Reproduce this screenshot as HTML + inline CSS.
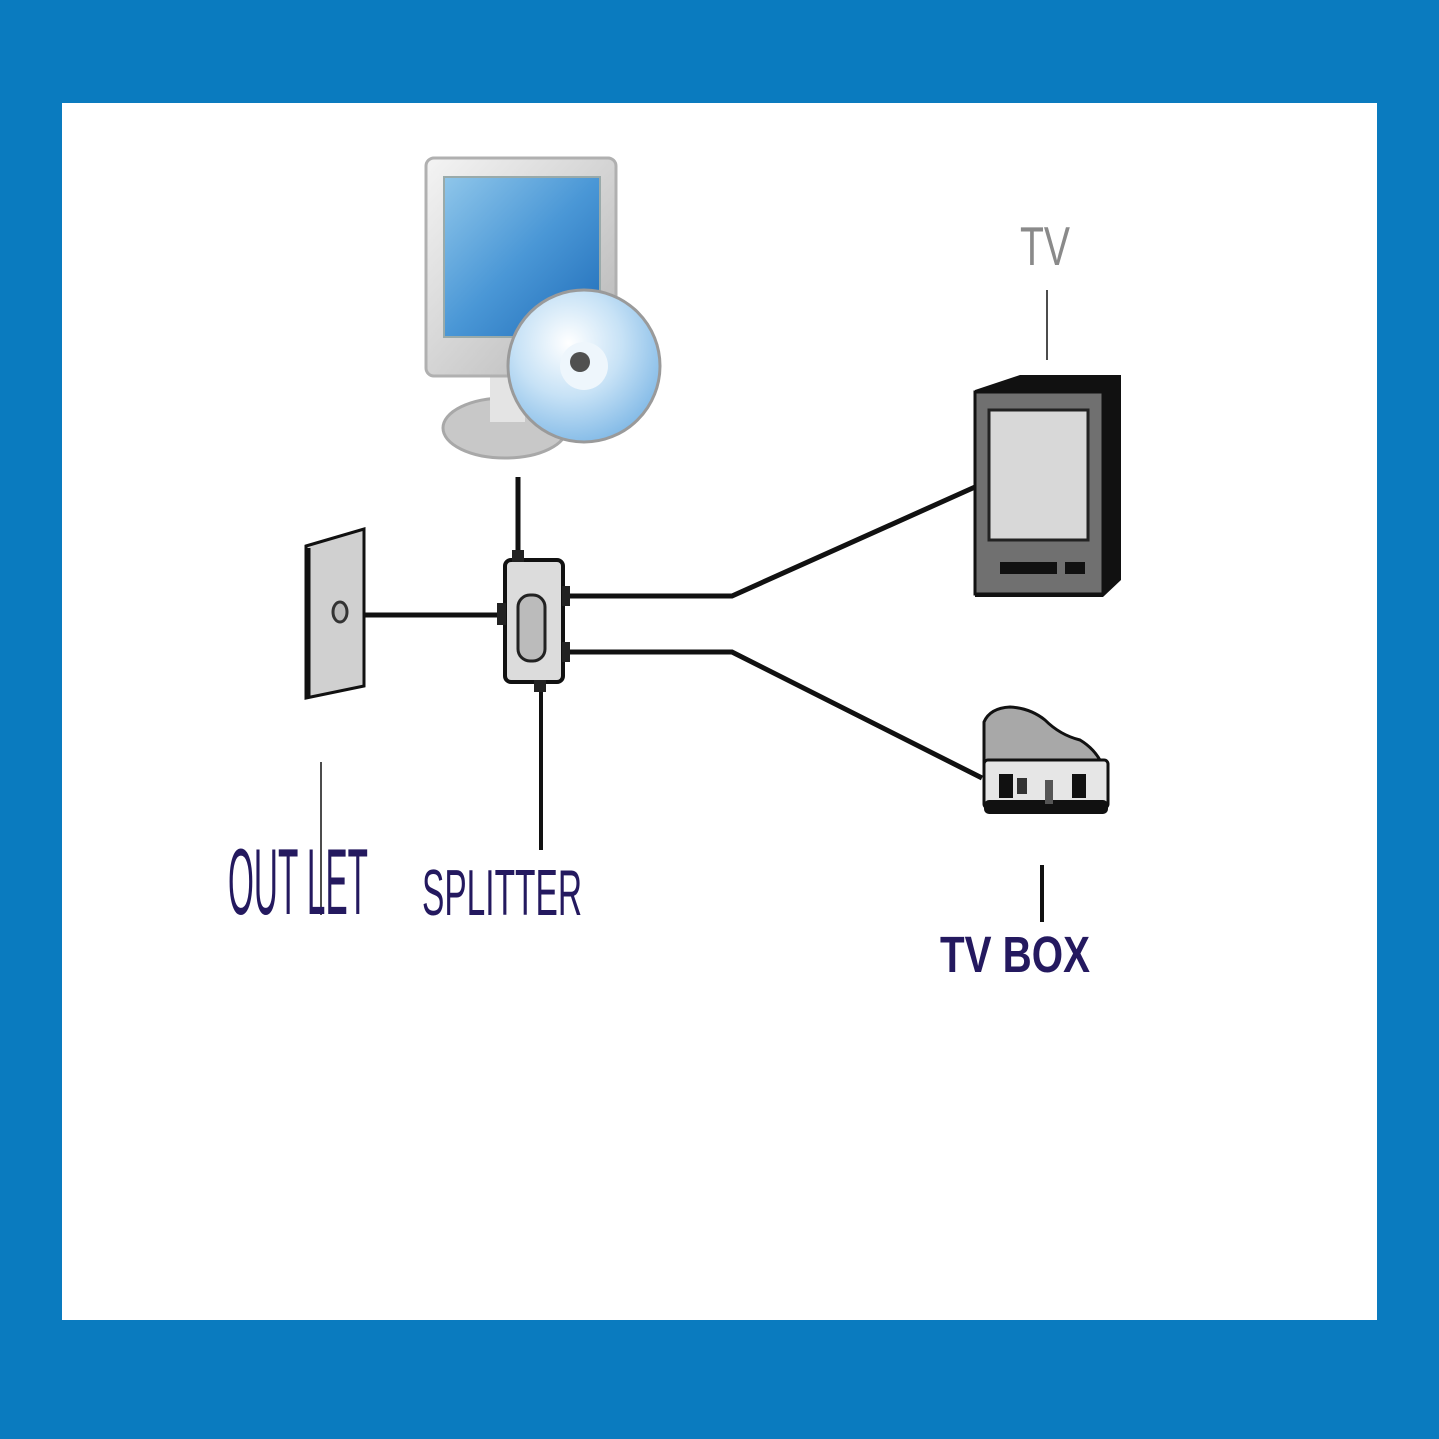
<!DOCTYPE html>
<html><head><meta charset="utf-8"><style>
html,body{margin:0;padding:0;background:#0a7bbf;}
svg{display:block}
</style></head><body>
<svg width="1439" height="1439" viewBox="0 0 1439 1439" xmlns="http://www.w3.org/2000/svg">
<defs>
<linearGradient id="scr" x1="0" y1="0" x2="1" y2="1">
<stop offset="0" stop-color="#8fc6ea"/><stop offset="0.5" stop-color="#4a97d6"/><stop offset="1" stop-color="#1f6cb8"/>
</linearGradient>
<linearGradient id="bez" x1="0" y1="0" x2="1" y2="1">
<stop offset="0" stop-color="#f4f4f4"/><stop offset="1" stop-color="#b4b4b4"/>
</linearGradient>
<radialGradient id="disc" cx="0.4" cy="0.35" r="0.7">
<stop offset="0" stop-color="#ffffff"/><stop offset="0.5" stop-color="#c7e2f6"/><stop offset="1" stop-color="#7fb8e6"/>
</radialGradient>
</defs>
<rect x="0" y="0" width="1439" height="1439" fill="#0a7bbf"/>
<rect x="62" y="103" width="1315" height="1217" fill="#ffffff"/>

<!-- computer -->
<ellipse cx="505" cy="428" rx="62" ry="30" fill="#c8c8c8" stroke="#a8a8a8" stroke-width="3"/>
<rect x="490" y="372" width="35" height="50" fill="#e4e4e4"/>
<rect x="426" y="158" width="190" height="218" rx="8" fill="url(#bez)" stroke="#b0b0b0" stroke-width="3"/>
<rect x="444" y="177" width="156" height="160" fill="url(#scr)" stroke="#9aa" stroke-width="2"/>
<circle cx="584" cy="366" r="76" fill="url(#disc)" stroke="#9a9a9a" stroke-width="3"/>
<circle cx="584" cy="366" r="24" fill="#eef6fc"/>
<circle cx="580" cy="362" r="10" fill="#505050"/>

<!-- cables -->
<g stroke="#111" fill="none" stroke-width="5">
<line x1="518" y1="477" x2="518" y2="562"/>
<line x1="345" y1="615" x2="502" y2="615"/>
<polyline points="565,596 732,596 975,487"/>
<polyline points="565,652 732,652 982,778"/>
<line x1="541" y1="682" x2="541" y2="850" stroke-width="4"/>
</g>
<g stroke="#111" stroke-width="1.5" fill="none">
<line x1="321" y1="762" x2="321" y2="915"/>
<line x1="1047" y1="290" x2="1047" y2="360"/>
</g>
<line x1="1042" y1="865" x2="1042" y2="922" stroke="#111" stroke-width="4"/>

<!-- wall plate -->
<polygon points="306,546 364,529 364,686 306,698" fill="#d0d0d0" stroke="#111" stroke-width="3"/>
<line x1="308" y1="548" x2="308" y2="697" stroke="#111" stroke-width="5"/>
<ellipse cx="340" cy="612" rx="7" ry="10" fill="#bbb" stroke="#333" stroke-width="3"/>

<!-- splitter -->
<rect x="505" y="560" width="58" height="122" rx="6" fill="#dcdcdc" stroke="#111" stroke-width="4"/>
<rect x="518" y="595" width="27" height="66" rx="12" fill="#bbb" stroke="#222" stroke-width="3"/>
<rect x="497" y="603" width="9" height="22" fill="#222"/>
<rect x="562" y="586" width="8" height="20" fill="#222"/>
<rect x="562" y="642" width="8" height="20" fill="#222"/>
<rect x="512" y="550" width="12" height="12" fill="#222"/>
<rect x="534" y="680" width="12" height="12" fill="#222"/>

<!-- TV -->
<polygon points="975,390 1020,375 1121,375 1121,580 1103,597 975,597" fill="#111"/>
<rect x="975" y="392" width="128" height="202" fill="#707070" stroke="#111" stroke-width="3"/>
<rect x="989" y="410" width="99" height="130" fill="#d8d8d8" stroke="#222" stroke-width="3"/>
<rect x="1000" y="562" width="57" height="12" fill="#111"/>
<rect x="1065" y="562" width="20" height="12" fill="#111"/>

<!-- TV box -->
<path d="M984,775 L984,722 Q990,708 1010,707 Q1030,708 1045,720 Q1060,735 1080,740 Q1100,752 1106,775 Z" fill="#a8a8a8" stroke="#111" stroke-width="3"/>
<rect x="984" y="760" width="124" height="48" rx="4" fill="#e6e6e6" stroke="#111" stroke-width="3"/>
<rect x="984" y="800" width="124" height="14" rx="5" fill="#111"/>
<rect x="999" y="774" width="14" height="24" fill="#111"/>
<rect x="1017" y="778" width="10" height="16" fill="#333"/>
<rect x="1045" y="780" width="8" height="24" fill="#555"/>
<rect x="1072" y="774" width="14" height="24" fill="#111"/>

<!-- labels -->
<g font-family="Liberation Sans, sans-serif" fill="#24195f">
<text x="228" y="914" font-size="94" textLength="140" lengthAdjust="spacingAndGlyphs">OUT LET</text>
<text x="422" y="915" font-size="65" textLength="160" lengthAdjust="spacingAndGlyphs">SPLITTER</text>
<text x="940" y="972" font-size="51" font-weight="bold" textLength="150" lengthAdjust="spacingAndGlyphs">TV BOX</text>
<text x="1020" y="265" font-size="55" fill="#8a8a8a" textLength="50" lengthAdjust="spacingAndGlyphs">TV</text>
</g>
</svg>
</body></html>
